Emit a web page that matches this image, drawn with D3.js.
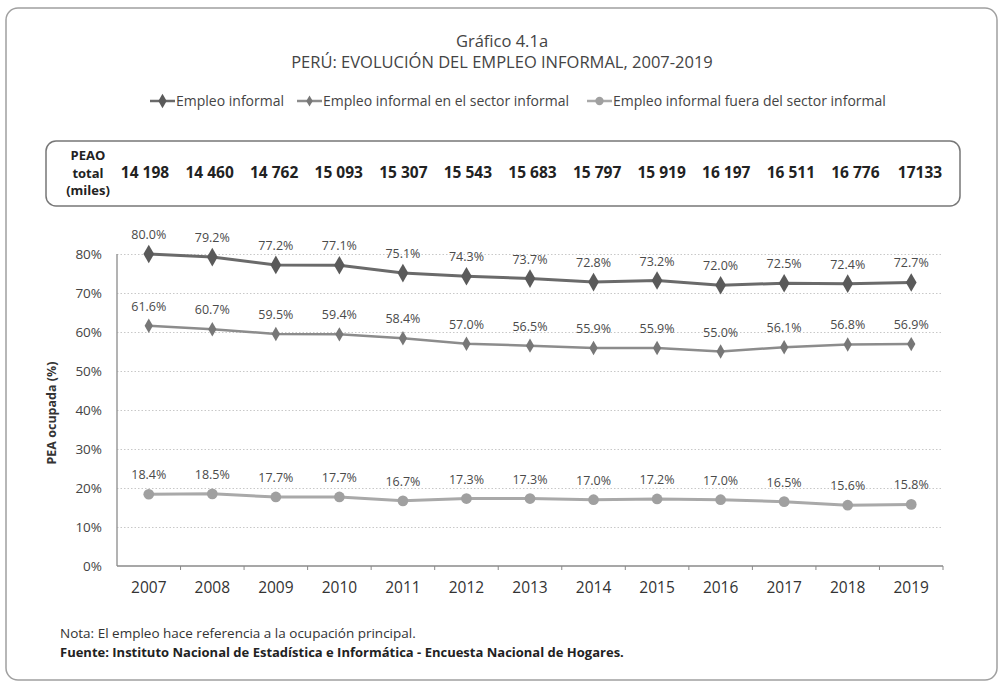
<!DOCTYPE html>
<html>
<head>
<meta charset="utf-8">
<title>Perú: evolución del empleo informal</title>
<script src="https://cdnjs.cloudflare.com/ajax/libs/d3/7.8.5/d3.min.js"></script>
<style>
body { margin: 0; background: #fff; }
svg text { font-family: "Open Sans", "Noto Sans", sans-serif; }
.grid line { stroke: #c8c8c8; stroke-dasharray: 1.5 2; }
.grid path { display: none; }
.axis--y path { display: none; }
.axis--y text { fill: #444; font-size: 13.5px; }
.axis--x path { display: none; }
.axis--x text { fill: #333; font-size: 15.5px; }
.label { fill: #4a4a4a; font-size: 12.5px; text-anchor: middle; }
.peao { fill: #222; font-size: 13px; font-weight: bold; text-anchor: middle; }
.peao-val { font-size: 15.5px; }
</style>
</head>
<body>
<svg id="chart" width="1003" height="683"></svg>
<script>
var years = ["2007","2008","2009","2010","2011","2012","2013","2014","2015","2016","2017","2018","2019"];
var peao = ["14 198","14 460","14 762","15 093","15 307","15 543","15 683","15 797","15 919","16 197","16 511","16 776","17133"];
var informal = [80.0, 79.2, 77.2, 77.1, 75.1, 74.3, 73.7, 72.8, 73.2, 72.0, 72.5, 72.4, 72.7];
var enSector = [61.6, 60.7, 59.5, 59.4, 58.4, 57.0, 56.5, 55.9, 55.9, 55.0, 56.1, 56.8, 56.9];
var fueraSector = [18.4, 18.5, 17.7, 17.7, 16.7, 17.3, 17.3, 17.0, 17.2, 17.0, 16.5, 15.6, 15.8];
var seriesNames = ["Empleo informal", "Empleo informal en el sector informal", "Empleo informal fuera del sector informal"];
var yTicks = [0, 10, 20, 30, 40, 50, 60, 70, 80];

var series = [
  {name: seriesNames[0], values: informal,    line: "#6a6a6a", mark: "#5a5a5a", width: 3,   size: 100, shape: d3.symbolDiamond},
  {name: seriesNames[1], values: enSector,    line: "#8c8c8c", mark: "#777777", width: 2.5, size: 60,  shape: d3.symbolDiamond},
  {name: seriesNames[2], values: fueraSector, line: "#a9a9a9", mark: "#a0a0a0", width: 3,   size: 90,  shape: d3.symbolCircle}
];

var svg = d3.select("#chart");

// outer frame
svg.append("rect")
  .attr("x", 6).attr("y", 8).attr("width", 991).attr("height", 672)
  .attr("rx", 12)
  .style("fill", "none").style("stroke", "#a0a0a0").style("stroke-width", 1.5);

svg.append("text").attr("x", 502).attr("y", 47)
  .style("text-anchor", "middle").style("font-size", "16.5px").style("fill", "#444")
  .text("Gráfico 4.1a");
svg.append("text").attr("x", 502).attr("y", 68)
  .style("text-anchor", "middle").style("font-size", "16.5px").style("fill", "#444")
  .text("PERÚ: EVOLUCIÓN DEL EMPLEO INFORMAL, 2007-2019");

// legend
var legendX = [150, 297, 587];
var legend = svg.append("g").attr("transform", "translate(0, 101)");
series.forEach(function(s, i) {
  var g = legend.append("g").attr("transform", `translate(${legendX[i]}, 0)`);
  g.append("line").attr("x1", 0).attr("x2", 25)
    .style("stroke", s.line).style("stroke-width", 2.5);
  g.append("path").attr("transform", "translate(12.5,0)")
    .attr("d", d3.symbol().type(s.shape).size(s.size * 0.6))
    .style("fill", s.mark);
  g.append("text").attr("x", 26).attr("y", 4.5)
    .style("font-size", "14px").style("fill", "#444")
    .text(s.name);
});

// PEAO box
svg.append("rect")
  .attr("x", 46).attr("y", 141).attr("width", 914).attr("height", 65)
  .attr("rx", 10)
  .style("fill", "none").style("stroke", "#777").style("stroke-width", 1.5);

var peaoLabel = svg.append("text").attr("class", "peao").attr("x", 88).attr("y", 160);
["PEAO", "total", "(miles)"].forEach(function(t, i) {
  peaoLabel.append("tspan").attr("x", 88).attr("dy", i ? 17.5 : 0).text(t);
});

var xp = d3.scalePoint().domain(years).range([145, 920]);
svg.selectAll(".peao-val")
  .data(peao)
  .enter().append("text")
    .attr("class", "peao peao-val")
    .attr("x", (d, i) => xp(years[i]))
    .attr("y", 178)
    .text(d => d);

// chart
var x = d3.scaleBand().domain(years).range([117, 943]);
var y = d3.scaleLinear().domain([0, 80]).range([566, 254]);
var cx = d => x(d) + x.bandwidth() / 2;

svg.append("g")
  .attr("class", "grid")
  .attr("transform", "translate(117, 0)")
  .call(d3.axisRight(y).tickValues(yTicks.slice(1)).tickSize(826).tickFormat(""));

svg.append("line")
  .attr("x1", 117).attr("x2", 117).attr("y1", y(80)).attr("y2", y(0))
  .style("stroke", "#9a9a9a").style("stroke-width", 1.5);
svg.append("line")
  .attr("x1", 117).attr("x2", 943).attr("y1", y(0)).attr("y2", y(0))
  .style("stroke", "#8a8a8a").style("stroke-width", 1.5);
svg.selectAll(".xtick")
  .data(years.slice(1).concat(["end"]))
  .enter().append("line")
    .attr("class", "xtick")
    .attr("x1", d => d === "end" ? 943 : x(d))
    .attr("x2", d => d === "end" ? 943 : x(d))
    .attr("y1", y(0)).attr("y2", y(0) + 4)
    .style("stroke", "#8a8a8a").style("stroke-width", 1);

svg.append("g")
  .attr("class", "axis--y")
  .attr("transform", "translate(117, 0)")
  .call(d3.axisLeft(y).tickValues(yTicks).tickSize(0).tickPadding(15).tickFormat(d => d + "%"));

svg.append("g")
  .attr("class", "axis--x")
  .attr("transform", `translate(0, ${y(0)})`)
  .call(d3.axisBottom(x).tickSize(0).tickPadding(16));

svg.append("text")
  .attr("transform", "translate(56, 413) rotate(-90)")
  .style("text-anchor", "middle").style("font-size", "12.5px").style("font-weight", "bold").style("fill", "#333")
  .text("PEA ocupada (%)");

var line = d3.line()
  .x((d, i) => cx(years[i]))
  .y(d => y(d));

series.forEach(function(s, k) {
  var g = svg.append("g").attr("class", "series-" + k);
  g.append("path")
    .datum(s.values)
    .attr("d", line)
    .style("fill", "none").style("stroke", s.line).style("stroke-width", s.width);
  g.selectAll(".dot")
    .data(s.values)
    .enter().append("path")
      .attr("class", "dot")
      .attr("transform", (d, i) => `translate(${cx(years[i])}, ${y(d)})`)
      .attr("d", d3.symbol().type(s.shape).size(s.size))
      .style("fill", s.mark);
  g.selectAll(".label")
    .data(s.values)
    .enter().append("text")
      .attr("class", "label")
      .attr("x", (d, i) => cx(years[i]))
      .attr("y", d => y(d) - 15)
      .text(d => d.toFixed(1) + "%");
});

svg.append("text").attr("x", 60).attr("y", 638)
  .style("font-size", "13.5px").style("fill", "#333")
  .text("Nota: El empleo hace referencia a la ocupación principal.");
svg.append("text").attr("x", 60).attr("y", 657)
  .style("font-size", "13px").style("font-weight", "bold").style("fill", "#222")
  .text("Fuente: Instituto Nacional de Estadística e Informática - Encuesta Nacional de Hogares.");
</script>
</body>
</html>
